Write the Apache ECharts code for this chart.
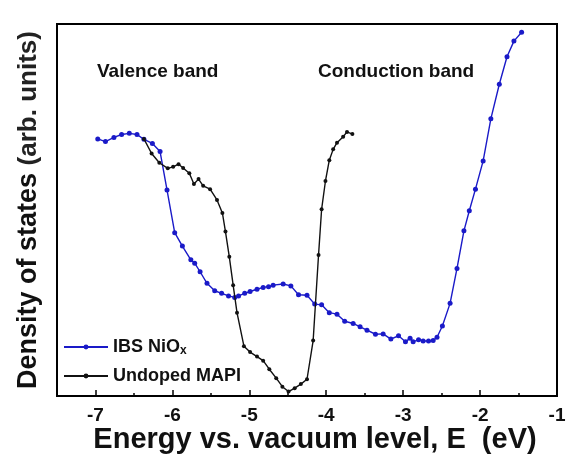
<!DOCTYPE html>
<html>
<head>
<meta charset="utf-8">
<script src="https://cdn.jsdelivr.net/npm/echarts@6/dist/echarts.min.js"></script>
<style>html,body{margin:0;padding:0;background:#fff}#c{width:571px;height:455px}</style>
</head>
<body>
<div id="c"></div>
<script>
// Energy (eV) values
var nioxEnergy = [-6.97,-6.87,-6.76,-6.66,-6.56,-6.46,-6.37,-6.26,-6.16,-6.07,-5.97,-5.87,-5.76,-5.71,-5.64,-5.55,-5.45,-5.36,-5.27,-5.19,-5.14,-5.06,-4.99,-4.90,-4.82,-4.75,-4.69,-4.56,-4.46,-4.36,-4.25,-4.15,-4.06,-3.96,-3.86,-3.76,-3.65,-3.56,-3.47,-3.36,-3.26,-3.16,-3.06,-2.97,-2.91,-2.87,-2.80,-2.74,-2.67,-2.61,-2.56,-2.49,-2.39,-2.30,-2.21,-2.14,-2.06,-1.96,-1.86,-1.75,-1.65,-1.56,-1.46];
var nioxDOS = [69.1,68.4,69.5,70.3,70.6,70.3,69.0,67.9,65.7,55.4,43.9,40.3,36.6,35.7,33.4,30.3,28.3,27.6,26.9,26.5,26.9,27.6,28.1,28.7,29.2,29.4,29.8,30.1,29.6,27.2,27.1,24.7,24.5,22.4,22.0,20.1,19.5,18.6,17.7,16.6,16.7,15.3,16.2,14.6,15.5,14.6,15.1,14.8,14.8,14.9,15.8,18.8,24.9,34.3,44.4,49.8,55.6,63.2,74.5,83.8,91.2,95.4,97.8];
var mapiEnergy = [-6.37,-6.27,-6.17,-6.06,-5.99,-5.92,-5.86,-5.78,-5.72,-5.66,-5.60,-5.51,-5.42,-5.35,-5.31,-5.26,-5.21,-5.16,-5.07,-4.99,-4.90,-4.82,-4.74,-4.65,-4.57,-4.49,-4.41,-4.33,-4.25,-4.17,-4.10,-4.06,-4.01,-3.96,-3.91,-3.86,-3.78,-3.73,-3.66];
var mapiDOS = [69.1,65.2,62.7,61.2,61.6,62.3,61.3,59.9,57.0,58.3,56.5,55.6,52.7,49.2,44.2,37.4,29.8,22.4,13.4,11.8,10.6,9.5,7.2,4.8,2.5,1.2,2.1,3.2,4.5,14.9,37.9,50.2,57.8,63.4,66.3,68.1,69.7,71.0,70.4];
var xMajorTicks = [-7,-6,-5,-4,-3,-2,-1];
var xMinorTicks = [-6.5,-5.5,-4.5,-3.5,-2.5,-1.5];
var seriesNames = ['IBS NiO{sub|x}', 'Undoped MAPI'];

function zip(a,b){var r=[];for(var i=0;i<a.length;i++)r.push([a[i],b[i]]);return r;}
var FONT = '"Liberation Sans", Arial, sans-serif';
var chart = echarts.init(document.getElementById('c'), null, {renderer:'canvas'});
chart.setOption({
  animation:false,
  backgroundColor:'#fff',
  textStyle:{fontFamily:FONT},
  grid:{left:57,right:14,top:24,bottom:59,containLabel:false,outerBoundsMode:'none',show:true,borderColor:'#000',borderWidth:2,backgroundColor:'transparent'},
  legend:{
    orient:'vertical', left:58, top:332, itemWidth:44, itemHeight:6, itemGap:9,
    data:[{name:seriesNames[0]},{name:seriesNames[1]}],
    textStyle:{fontFamily:FONT,fontSize:18,fontWeight:'bold',color:'#111',lineHeight:20,
      rich:{sub:{fontSize:12,fontWeight:'bold',verticalAlign:'bottom',padding:[12,0,0,0]}}}
  },
  graphic:[
    {type:'text',left:97,top:62,style:{text:'Valence band',font:'bold 19px '+FONT,fill:'#111'}},
    {type:'text',left:318,top:62,style:{text:'Conduction band',font:'bold 19px '+FONT,fill:'#111'}}
  ],
  xAxis:[{
    type:'value',min:-7.5,max:-1,
    axisLine:{show:true,lineStyle:{color:'#000',width:2}},
    axisTick:{show:true,inside:true,length:6,customValues:xMajorTicks,lineStyle:{color:'#000',width:1.5}},
    axisLabel:{show:true,customValues:xMajorTicks,fontSize:19,fontWeight:'bold',color:'#111',margin:10,fontFamily:FONT},
    splitLine:{show:false},
    name:'Energy vs. vacuum level, E  (eV)',nameLocation:'middle',nameGap:29,nameMoveOverlap:false,
    nameTextStyle:{fontSize:29,fontWeight:'bold',color:'#111',fontFamily:FONT,padding:[0,0,0,16]}
  },{
    type:'value',min:-7.5,max:-1,position:'bottom',
    axisLine:{show:false},
    axisTick:{show:true,inside:true,length:3,customValues:xMinorTicks,lineStyle:{color:'#000',width:1.5}},
    axisLabel:{show:false},splitLine:{show:false}
  }],
  yAxis:{
    type:'value',min:0,max:100,
    axisLine:{show:true,lineStyle:{color:'#000',width:2}},
    axisTick:{show:false},axisLabel:{show:false},splitLine:{show:false},
    name:'{b|Density of states }{n|(arb. units)}',nameLocation:'middle',nameGap:15,nameMoveOverlap:false,
    nameTextStyle:{color:'#111',fontFamily:FONT,
      rich:{b:{fontSize:27,fontWeight:'bold',color:'#111',fontFamily:FONT},n:{fontSize:26,fontWeight:'bold',color:'#222',fontFamily:FONT}}}
  },
  series:[{
    name:seriesNames[0],type:'line',data:zip(nioxEnergy,nioxDOS),
    symbol:'circle',symbolSize:5,
    lineStyle:{color:'#1a1ac8',width:1.4},itemStyle:{color:'#1a1ac8'},z:2
  },{
    name:seriesNames[1],type:'line',data:zip(mapiEnergy,mapiDOS),
    symbol:'circle',symbolSize:4,
    lineStyle:{color:'#111',width:1.4},itemStyle:{color:'#111'},z:3
  }]
});
</script>
</body>
</html>
